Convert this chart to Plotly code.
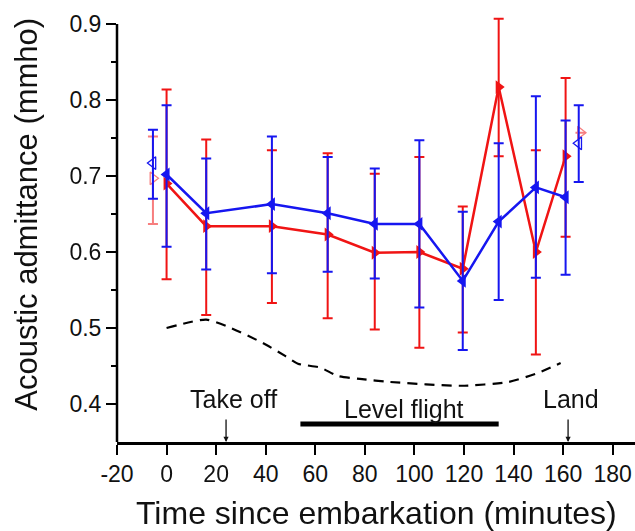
import plotly.graph_objects as go

# ---- data ----
time_min = [0, 16, 42.5, 65, 84, 102, 119.5, 134, 149, 161]

blue_mean = [0.702, 0.651, 0.663, 0.651, 0.637, 0.637, 0.562, 0.640, 0.685, 0.672]
blue_hi   = [0.793, 0.723, 0.752, 0.725, 0.710, 0.747, 0.653, 0.743, 0.805, 0.773]
blue_lo   = [0.607, 0.577, 0.572, 0.574, 0.565, 0.527, 0.471, 0.537, 0.566, 0.570]

red_mean = [0.690, 0.634, 0.634, 0.623, 0.599, 0.600, 0.578, 0.817, 0.600, 0.726]
red_hi   = [0.814, 0.748, 0.734, 0.730, 0.703, 0.725, 0.660, 0.907, 0.734, 0.829]
red_lo   = [0.564, 0.517, 0.533, 0.513, 0.498, 0.474, 0.494, 0.726, 0.465, 0.620]

# baseline (hollow) markers
blue_base_t = [-5.5, 166.3]
blue_base_mean = [0.717, 0.743]
blue_base_hi = [0.761, 0.793]
blue_base_lo = [0.670, 0.692]

red_base_t = [-5.5, 167]
red_base_mean = [0.697, 0.757]
red_base_hi = [0.752, 0.757]
red_base_lo = [0.637, 0.757]

# dashed reference curve
ref_t = [0, 16, 26, 39, 48, 53, 62, 69, 78, 90, 119, 138, 150, 159]
ref_v = [0.500, 0.511, 0.500, 0.480, 0.463, 0.453, 0.448, 0.437, 0.433, 0.429,
         0.424, 0.429, 0.441, 0.454]

x_ticks = [-20, 0, 20, 40, 60, 80, 100, 120, 140, 160, 180]
x_tick_labels = ["-20", "0", "20", "40", "60", "80", "100", "120", "140", "160", "180"]
y_ticks = [0.4, 0.5, 0.6, 0.7, 0.8, 0.9]
y_tick_labels = ["0.4", "0.5", "0.6", "0.7", "0.8", "0.9"]

takeoff_t = 24
land_t = 162
level_flight = [54, 134]

RED = "#F01414"
BLUE = "#1616F0"
FONT = "Liberation Sans, Arial, sans-serif"


def plus(hi, m):
    return [h - v for h, v in zip(hi, m)]


def minus(lo, m):
    return [v - l for l, v in zip(lo, m)]


fig = go.Figure()

fig.add_trace(go.Scatter(
    x=ref_t, y=ref_v, mode="lines",
    line=dict(color="black", width=2.2, dash="10px,7px", shape="spline", smoothing=0.6),
    showlegend=False, hoverinfo="skip"))

fig.add_trace(go.Scatter(
    x=red_base_t, y=red_base_mean, mode="markers",
    marker=dict(symbol="triangle-right-open", size=11, color=RED, line=dict(width=1.3, color=RED)),
    opacity=0.55,
    error_y=dict(type="data", array=plus(red_base_hi, red_base_mean),
                 arrayminus=minus(red_base_lo, red_base_mean),
                 color=RED, thickness=2, width=5),
    showlegend=False, cliponaxis=False))

fig.add_trace(go.Scatter(
    x=blue_base_t, y=blue_base_mean, mode="markers",
    marker=dict(symbol="triangle-left-open", size=11, color=BLUE, line=dict(width=1.3, color=BLUE)),
    error_y=dict(type="data", array=plus(blue_base_hi, blue_base_mean),
                 arrayminus=minus(blue_base_lo, blue_base_mean),
                 color=BLUE, thickness=2, width=5),
    showlegend=False, cliponaxis=False))

fig.add_trace(go.Scatter(
    x=time_min, y=red_mean, mode="lines+markers",
    line=dict(color=RED, width=2.5),
    marker=dict(symbol="triangle-right", size=12, color=RED),
    error_y=dict(type="data", array=plus(red_hi, red_mean),
                 arrayminus=minus(red_lo, red_mean),
                 color=RED, thickness=2, width=5),
    showlegend=False, cliponaxis=False))

fig.add_trace(go.Scatter(
    x=time_min, y=blue_mean, mode="lines+markers",
    line=dict(color=BLUE, width=2.5),
    marker=dict(symbol="triangle-left", size=12, color=BLUE),
    error_y=dict(type="data", array=plus(blue_hi, blue_mean),
                 arrayminus=minus(blue_lo, blue_mean),
                 color=BLUE, thickness=2, width=5),
    showlegend=False, cliponaxis=False))

# Level-flight bar
fig.add_shape(type="line", xref="x", yref="y",
              x0=level_flight[0], x1=level_flight[1], y0=0.3737, y1=0.3737,
              line=dict(color="black", width=5))
# y axis line (ends at the 0.9 tick, as in the reference)
fig.add_shape(type="line", xref="paper", yref="y", x0=0, x1=0,
              y0=0.35, y1=0.9, line=dict(color="black", width=2.5))

ann_font = dict(family=FONT, size=25, color="#111")
annotations = [
    dict(x=27, y=0.4066, text="Take off", showarrow=False, font=ann_font,
         xref="x", yref="y", xanchor="center", yanchor="middle"),
    dict(x=95.6, y=0.394, text="Level flight", showarrow=False, font=ann_font,
         xref="x", yref="y", xanchor="center", yanchor="middle"),
    dict(x=163, y=0.4066, text="Land", showarrow=False, font=ann_font,
         xref="x", yref="y", xanchor="center", yanchor="middle"),
    dict(x=takeoff_t, y=0.35, ax=takeoff_t, ay=0.3815, axref="x", ayref="y",
         xref="x", yref="y", text="", showarrow=True, arrowhead=2,
         arrowsize=0.8, arrowwidth=1.3, arrowcolor="#111", standoff=0),
    dict(x=land_t, y=0.35, ax=land_t, ay=0.3815, axref="x", ayref="y",
         xref="x", yref="y", text="", showarrow=True, arrowhead=2,
         arrowsize=0.8, arrowwidth=1.3, arrowcolor="#111", standoff=0),
    dict(x=0.5, y=0, xref="paper", yref="paper", yshift=-71,
         text="Time since embarkation (minutes)", showarrow=False,
         font=dict(family=FONT, size=32, color="#111"),
         xanchor="center", yanchor="middle"),
    dict(x=0, y=0.53, xref="paper", yref="paper", xshift=-90,
         text="Acoustic admittance (mmho)", showarrow=False, textangle=-90,
         font=dict(family=FONT, size=31, color="#111"),
         xanchor="center", yanchor="middle"),
]

fig.update_layout(
    width=635, height=531,
    margin=dict(l=117, r=0, t=13, b=89),
    paper_bgcolor="white", plot_bgcolor="white",
    font=dict(family=FONT, color="#111"),
    annotations=annotations,
    xaxis=dict(range=[-20, 189], tickvals=x_ticks, ticktext=x_tick_labels,
               ticks="outside", ticklen=10, tickwidth=2, tickcolor="black",
               showline=True, linewidth=2.5, linecolor="black",
               showgrid=False, zeroline=False,
               tickfont=dict(family=FONT, size=23, color="#111")),
    yaxis=dict(range=[0.35, 0.9145], tickvals=y_ticks, ticktext=y_tick_labels,
               ticks="outside", ticklen=10, tickwidth=2, tickcolor="black",
               showline=False,
               showgrid=False, zeroline=False,
               minor=dict(tickvals=[0.45, 0.55, 0.65, 0.75, 0.85], ticks="outside", ticklen=5,
                          tickwidth=2, tickcolor="black", showgrid=False),
               tickfont=dict(family=FONT, size=23, color="#111")),
)

fig.write_html("out.html")
